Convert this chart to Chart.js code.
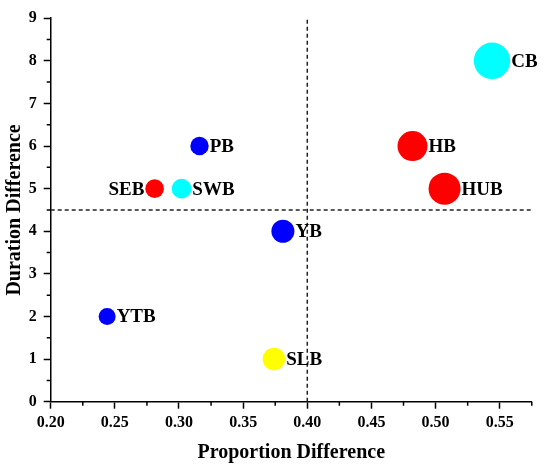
<!DOCTYPE html>
<html><head><meta charset="utf-8">
<script src="https://cdn.jsdelivr.net/npm/chart.js@4.4.1/dist/chart.umd.min.js"></script>
<style>html,body{margin:0;padding:0;background:#fff;}#wrap{width:550px;height:471px;position:relative;}</style>
</head><body><div id="wrap"><canvas id="c"></canvas></div>
<script>
const basins = ['SEB','SWB','PB','CB','HB','HUB','YB','YTB','SLB'];
const proportionDiff = [0.281,0.302,0.316,0.544,0.482,0.507,0.381,0.244,0.374];
const durationDiff = [5,5,6,8,6,5,4,2,1];
const bubbleSize = [9.3,9.8,9.2,18.2,15,16,11.5,8.5,11.3];
const bubbleColor = ['#FF0000','#00FFFF','#0000FF','#00FFFF','#FF0000','#FF0000','#0000FF','#0000FF','#FFFF00'];
const labelSide = ['left','right','right','right','right','right','right','right','right'];
const xThreshold = 0.40;
const yThreshold = 4.5;
const xTicks = [0.20,0.25,0.30,0.35,0.40,0.45,0.50,0.55];
const xMinorTicks = [0.225,0.275,0.325,0.375,0.425,0.475,0.525,0.575];
const yTicks = [0,1,2,3,4,5,6,7,8,9];
const yMinorTicks = [0.5,1.5,2.5,3.5,4.5,5.5,6.5,7.5,8.5];
const xRange = [0.2,0.575];
const yRange = [0,9];

const FONT = '"Liberation Serif", "Times New Roman", serif';

const overlay = {
  id:'overlay',
  afterDatasetsDraw(chart){
    const ctx = chart.ctx;
    const meta = chart.getDatasetMeta(0);
    ctx.save();
    ctx.font = 'bold 19px ' + FONT;
    ctx.fillStyle = '#000';
    ctx.textBaseline = 'middle';
    meta.data.forEach((el,i)=>{
      const r = el.options.radius;
      if(labelSide[i]==='left'){ctx.textAlign='right'; ctx.fillText(basins[i], el.x - r - 1, el.y + 1);}
      else {ctx.textAlign='left'; ctx.fillText(basins[i], el.x + r + 1, el.y + 1);}
    });
    const xs = chart.scales.x, ys = chart.scales.y;
    ctx.strokeStyle = '#000'; ctx.lineWidth = 1.5;
    ctx.beginPath();
    xMinorTicks.forEach(v=>{const px = xs.getPixelForValue(v); ctx.moveTo(px, xs.top); ctx.lineTo(px, xs.top + 4);});
    yMinorTicks.forEach(v=>{const py = ys.getPixelForValue(v); ctx.moveTo(ys.right, py); ctx.lineTo(ys.right - 4, py);});
    ctx.stroke();
    ctx.restore();
  }
};

const dashStyle = {type:'line', borderColor:'#222', borderWidth:1.5, borderDash:[4,3], pointRadius:0, fill:false, tension:0};

new Chart(document.getElementById('c'), {
  type:'bubble',
  data:{
    datasets:[
      {label:'Basins', data: basins.map((b,i)=>({x:proportionDiff[i], y:durationDiff[i], r:bubbleSize[i]})),
       backgroundColor:bubbleColor, borderWidth:0, hoverRadius:0},
      Object.assign({label:'vx', data:[{x:xThreshold,y:yRange[0]},{x:xThreshold,y:yRange[1]}]}, dashStyle),
      Object.assign({label:'hy', data:[{x:xRange[0],y:yThreshold},{x:xRange[1],y:yThreshold}]}, dashStyle)
    ]
  },
  options:{
    responsive:true, maintainAspectRatio:false, animation:false,
    layout:{padding:{top:14,right:17,left:0,bottom:0}},
    plugins:{legend:{display:false}, tooltip:{enabled:false}},
    events:[],
    scales:{
      x:{type:'linear', position:'bottom', min:xRange[0], max:xRange[1],
        afterFit:s=>{s.height = 69.3;},
        afterBuildTicks:s=>{s.ticks = xTicks.map(v=>({value:v}));},
        ticks:{callback:v=>Number(v).toFixed(2), font:{family:FONT,size:16,weight:'bold'}, color:'#000', padding:5, maxRotation:0, autoSkip:false},
        grid:{display:true, drawOnChartArea:false, drawTicks:true, tickLength:7, tickColor:'#000', tickWidth:1.5},
        border:{display:true, color:'#000', width:1.5},
        title:{display:true, text:'Proportion Difference', font:{family:FONT,size:20,weight:'bold'}, color:'#000', padding:{top:0,bottom:6}}
      },
      y:{type:'linear', position:'left', min:yRange[0], max:yRange[1],
        afterFit:s=>{s.width = 50.7;},
        afterBuildTicks:s=>{s.ticks = yTicks.map(v=>({value:v}));},
        ticks:{callback:v=>String(v), font:{family:FONT,size:16,weight:'bold'}, color:'#000', padding:7, autoSkip:false},
        grid:{display:true, drawOnChartArea:false, drawTicks:true, tickLength:7, tickColor:'#000', tickWidth:1.5},
        border:{display:true, color:'#000', width:1.5},
        title:{display:true, text:'Duration Difference', font:{family:FONT,size:20,weight:'bold'}, color:'#000', padding:{top:3,bottom:0}}
      }
    }
  },
  plugins:[overlay]
});
</script></body></html>
